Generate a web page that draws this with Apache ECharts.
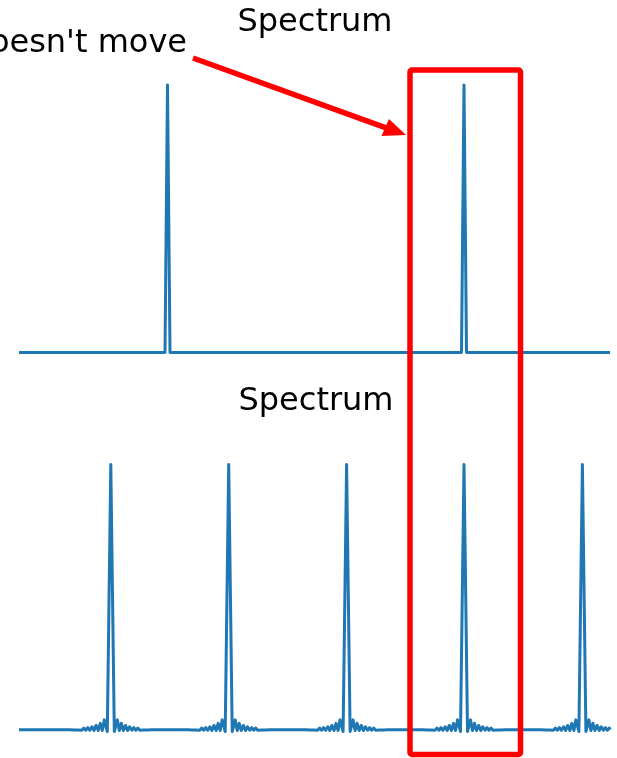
<!DOCTYPE html>
<html>
<head>
<meta charset="utf-8">
<script src="https://cdn.jsdelivr.net/npm/echarts@6/dist/echarts.min.js"></script>
<style>
  html, body { margin: 0; padding: 0; background: #fff; }
  #chart { width: 617px; height: 758px; }
</style>
</head>
<body>
<div id="chart"></div>
<script>
// frequency axis in bins (0..591), amplitude normalised to peak = 1
var topPeaks = [148.5, 445];
var topShape = [[-2.5, 0], [0, 1], [2.5, 0]];

var bottomPeaks = [91.8, 209.7, 327.6, 445, 563.4];
// one peak with its side lobes: [offset, amplitude]
var bottomShape = [
    [-41, 0.003], [-39, 0.006], [-37, 0.002], [-35, 0.006], [-33, 0.002],
    [-31, 0.007], [-29, 0.001], [-27, 0.009], [-25, 0.001], [-23, 0.011],
    [-21, 0.001], [-18.8, 0.014], [-16.8, 0.0], [-14.7, 0.019], [-12.6, 0.0],
    [-10.5, 0.027], [-8.5, 0.0], [-6.5, 0.04], [-3.5, -0.004], [0, 1],
    [3.5, -0.004], [6.5, 0.04], [8.5, 0.0], [10.5, 0.027], [12.6, 0.0],
    [14.7, 0.019], [16.8, 0.0], [18.8, 0.014], [21, 0.001], [23, 0.011],
    [25, 0.001], [27, 0.009], [29, 0.001], [31, 0.007], [33, 0.002],
    [35, 0.006], [37, 0.002], [39, 0.006], [41, 0.003]
];
var xMax = 591;
var floorLevel = [0, 0.003];   // top, bottom baseline level

function buildSpectrum(peaks, shape, base) {
    var pts = [[0, base]];
    peaks.forEach(function (p) {
        shape.forEach(function (s) {
            var x = p + s[0];
            if (x >= 0 && x <= xMax + 1) pts.push([x, s[1]]);
        });
    });
    if (pts[pts.length - 1][0] < xMax) pts.push([xMax, base]);
    return pts;
}

var chart = echarts.init(document.getElementById('chart'));
var blue = '#1f77b4';
var red = '#ff0000';
var font = '"DejaVu Sans", sans-serif';

var option = {
    animation: false,
    backgroundColor: '#fff',
    grid: [
        {left: 19, top: 85, width: 591, height: 267.5},
        {left: 19, top: 464.5, width: 591, height: 266}
    ],
    xAxis: [
        {gridIndex: 0, type: 'value', min: 0, max: xMax, show: false},
        {gridIndex: 1, type: 'value', min: 0, max: xMax, show: false}
    ],
    yAxis: [
        {gridIndex: 0, type: 'value', min: 0, max: 1, show: false},
        {gridIndex: 1, type: 'value', min: 0, max: 1, show: false}
    ],
    series: [
        {
            type: 'line', xAxisIndex: 0, yAxisIndex: 0,
            data: buildSpectrum(topPeaks, topShape, floorLevel[0]),
            showSymbol: false, symbol: 'none', clip: false,
            lineStyle: {color: blue, width: 3, join: 'round'}
        },
        {
            type: 'line', xAxisIndex: 1, yAxisIndex: 1,
            data: buildSpectrum(bottomPeaks, bottomShape, floorLevel[1]),
            showSymbol: false, symbol: 'none', clip: false,
            lineStyle: {color: blue, width: 3, join: 'round'}
        }
    ],
    graphic: [
        {
            type: 'text', x: 315, y: 23, z: 10,
            style: {text: 'Spectrum', fill: '#000', font: '32px ' + font,
                    align: 'center', verticalAlign: 'middle'}
        },
        {
            type: 'text', x: 316, y: 402, z: 10,
            style: {text: 'Spectrum', fill: '#000', font: '32px ' + font,
                    align: 'center', verticalAlign: 'middle'}
        },
        {
            type: 'text', x: 187, y: 44, z: 10,
            style: {text: "Doesn't move", fill: '#000', font: '32px ' + font,
                    align: 'right', verticalAlign: 'middle'}
        },
        {
            type: 'line', z: 20,
            shape: {x1: 193, y1: 58, x2: 386, y2: 127.8},
            style: {stroke: red, lineWidth: 5.5}
        },
        {
            type: 'polygon', z: 20,
            shape: {points: [[406, 135], [381.5, 136], [389, 119]]},
            style: {fill: red}
        },
        {
            type: 'rect', z: 20,
            shape: {x: 410, y: 70, width: 110.5, height: 684.5, r: 2},
            style: {fill: 'none', stroke: red, lineWidth: 5.5, lineJoin: 'round'}
        }
    ]
};
chart.setOption(option);
</script>
</body>
</html>
